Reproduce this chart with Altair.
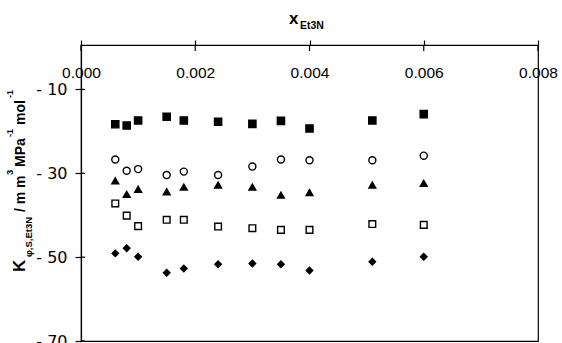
import altair as alt
import pandas as pd

# ---- data ----
x_frac = [0.0006, 0.0008, 0.0010, 0.0015, 0.0018, 0.0024, 0.0030, 0.0035, 0.0040, 0.0051, 0.0060]
k_filled_square = [-18.3, -18.6, -17.4, -16.5, -17.4, -17.7, -18.2, -17.5, -19.3, -17.4, -15.9]
k_open_circle = [-26.7, -29.4, -29.0, -30.4, -29.6, -30.4, -28.4, -26.7, -26.9, -26.9, -25.8]
k_filled_triangle = [-31.8, -35.0, -33.8, -34.4, -33.3, -32.8, -33.3, -35.2, -34.6, -32.8, -32.4]
k_open_square = [-37.2, -40.1, -42.6, -41.1, -41.1, -42.7, -43.1, -43.5, -43.5, -42.1, -42.3]
k_filled_diamond = [-49.1, -47.9, -49.9, -53.7, -52.7, -51.7, -51.5, -51.7, -53.2, -51.1, -49.9]

series_names = ["filled square", "open circle", "filled triangle", "open square", "filled diamond"]
series_values = [k_filled_square, k_open_circle, k_filled_triangle, k_open_square, k_filled_diamond]
series_shapes = ["square", "circle", "triangle-up", "square", "diamond"]
series_fills = ["black", "white", "black", "white", "black"]
series_sizes = [52, 42, 72, 40, 110]

x_ticks = [0.0, 0.002, 0.004, 0.006, 0.008]
y_ticks = [-10, -30, -50, -70]
y_tick_labels = ["- 10", "- 30", "- 50", "- 70"]

rows = []
for name, vals in zip(series_names, series_values):
    for xv, yv in zip(x_frac, vals):
        rows.append({"series": name, "x": xv, "k": yv})
df = pd.DataFrame(rows)

W, H = 457, 296
xscale = alt.Scale(domain=[0, 0.008], nice=False, zero=False)
yscale = alt.Scale(domain=[-70, 0.6], nice=False, zero=False)

label_expr = " : ".join(
    f"datum.value == {v} ? '{t}'" for v, t in zip(y_ticks, y_tick_labels)
) + " : ''"

x_axis = alt.Axis(
    orient="top", values=x_ticks, format=".3f", title=None,
    labelFont="Liberation Sans", labelFontSize=15.5, labelColor="black",
    labelBaseline="middle", labelPadding=-32, tickSize=5, tickColor="black",
    tickWidth=1.2, domainColor="black", domainWidth=1.2, grid=False,
    labelFlush=False, labelOverlap=False)
y_axis = alt.Axis(
    orient="left", values=y_ticks, labelExpr=label_expr, title=None,
    labelFont="DejaVu Sans", labelFontSize=16, labelColor="black",
    labelPadding=8, tickSize=6, tickColor="black", tickWidth=1.2,
    domainColor="black", domainWidth=1.2, grid=False,
    labelFlush=False, labelOverlap=False)

points = alt.Chart(df).mark_point(filled=True, stroke="black", strokeWidth=1.4, opacity=1).encode(
    x=alt.X("x:Q", scale=xscale, axis=x_axis),
    y=alt.Y("k:Q", scale=yscale, axis=y_axis),
    shape=alt.Shape("series:N", scale=alt.Scale(domain=series_names, range=series_shapes), legend=None),
    fill=alt.Fill("series:N", scale=alt.Scale(domain=series_names, range=series_fills), legend=None),
    size=alt.Size("series:N", scale=alt.Scale(domain=series_names, range=series_sizes), legend=None),
)

ytick_in = alt.Chart(pd.DataFrame({"k": y_ticks})).mark_rule(color="black", strokeWidth=1.2).encode(
    y=alt.Y("k:Q", scale=yscale, axis=y_axis), x=alt.value(0), x2=alt.value(4))
xtick_in = alt.Chart(pd.DataFrame({"x": x_ticks})).mark_rule(color="black", strokeWidth=1.2).encode(
    x=alt.X("x:Q", scale=xscale, axis=x_axis), y=alt.value(0), y2=alt.value(6))


def label(text, x, y, size, angle=0, bold=True, font="Liberation Sans"):
    return alt.Chart(pd.DataFrame({"t": [text]})).mark_text(
        align="left", baseline="alphabetic", fontSize=size,
        fontWeight="bold" if bold else "normal", font=font, angle=angle, color="black"
    ).encode(x=alt.value(x), y=alt.value(y), text="t:N")


# y title pieces: positions relative to the plot origin (81, 45)
texts = [
    label("x", 208, -21, 17),
    label("Et3N", 219, -16.5, 10.5),
    label("K", -56, 227, 17, angle=270),
    label("φ,S,Et3N", -49, 212, 9.5, angle=270),
    label("/ m m", -56, 167, 14, angle=270),
    label("3", -68, 130, 9.5, angle=270),
    label("MPa", -56, 122, 14, angle=270),
    label("-1", -68, 92, 9, angle=270),
    label("mol", -56, 80, 14, angle=270),
    label("-1", -68, 53, 9, angle=270),
]

chart = alt.layer(points, ytick_in, xtick_in, *texts).properties(
    width=W, height=H,
    autosize=alt.AutoSizeParams(type="none"),
    padding={"left": 81, "top": 45, "right": 562 - 81 - W, "bottom": 343 - 45 - H},
    background="white",
).configure_view(stroke="black", strokeWidth=1.2)

chart.save("out.html", embed_options={"renderer": "svg", "actions": False})
